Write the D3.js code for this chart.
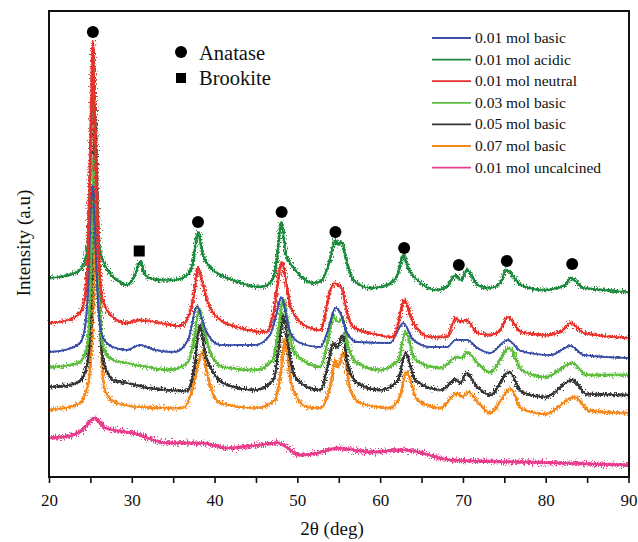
<!DOCTYPE html>
<html><head><meta charset="utf-8">
<script src="https://cdn.jsdelivr.net/npm/d3@7"></script>
<style>body{margin:0;background:#fff}svg{display:block}text{font-family:"Liberation Serif","DejaVu Serif",serif;fill:#111}</style>
</head><body><svg id="c" width="638" height="542"></svg>
<script>
// ---- data: [2θ (deg), intensity (a.u., stacked)] ----
const seriesNames = ["0.01 mol basic","0.01 mol acidic","0.01 mol neutral","0.03 mol basic","0.05 mol basic","0.07 mol basic","0.01 mol uncalcined"];
const seriesColors = ["#3a4ea6","#1e8a3c","#e8312b","#5dbd3d","#353535","#f5891f","#e83e8c"];
const basic001 = [[20,125],[21.9,127],[23.75,134],[24.35,150],[24.7,185],[25.05,267],[25.3,292],[25.55,247],[25.9,177],[26.2,150],[26.6,138],[27.7,130],[29.4,127],[31.0,132],[32.8,127],[35.2,125],[36.8,137],[37.9,171],[38.5,157],[39.1,144],[40.7,132],[44.9,132],[46.7,142],[47.45,162],[48.05,180],[48.65,162],[49.15,144],[50.35,134],[52.8,130],[53.7,147],[54.6,169],[55.2,164],[56.0,144],[57.25,135],[61.2,134],[62.8,154],[64.0,137],[66.1,130],[68.1,130],[69.1,137],[70.5,137],[71.75,129],[73.3,124],[75.4,137],[77.0,126],[80.6,122],[83.0,131],[84.6,122],[90,119]];
const acidic001 = [[20,199],[21.9,201],[23.75,207],[24.35,216],[24.7,237],[25.0,317],[25.35,427],[25.6,327],[25.9,252],[26.2,226],[27.0,208],[28.2,197],[29.4,192],[30.3,200],[31.0,215],[31.7,201],[33.4,197],[35.2,197],[36.7,202],[37.4,215],[38.0,245],[38.6,222],[39.8,207],[42.2,197],[45.5,190],[46.7,194],[47.45,212],[48.05,255],[48.65,222],[49.5,210],[51.9,194],[53.0,197],[53.85,215],[54.6,237],[54.95,232],[55.3,235],[56.0,214],[56.75,197],[58.8,189],[60.9,192],[62.1,202],[62.8,222],[63.5,207],[64.5,197],[66.9,187],[68.25,192],[69.1,202],[69.8,197],[70.5,207],[71.75,192],[73.3,189],[74.6,195],[75.2,207],[77.0,192],[79.7,187],[82.4,192],[83.0,199],[84.6,189],[87.0,187],[90,185]];
const neutral001 = [[20,154],[21.9,156],[23.75,164],[24.35,180],[24.7,222],[25.0,327],[25.3,435],[25.6,337],[25.9,242],[26.2,197],[26.6,174],[27.7,160],[29.4,154],[31.0,157],[33.4,154],[35.8,151],[37.0,164],[37.5,182],[38.0,209],[38.6,192],[39.1,177],[40.7,157],[43.1,149],[46.4,145],[47.1,164],[48.15,214],[48.8,187],[49.15,170],[51.2,150],[52.8,147],[54.0,187],[54.5,194],[55.0,192],[55.3,190],[56.0,164],[56.75,150],[58.8,144],[61.6,140],[62.2,154],[62.9,177],[64.0,154],[66.1,140],[68.1,140],[69.1,159],[69.7,155],[70.4,157],[71.75,144],[73.3,142],[74.5,147],[75.4,160],[77.0,145],[80.0,142],[81.8,145],[83.0,154],[84.6,144],[90,139]];
const basic003 = [[20,110],[21.9,111],[23.75,115],[24.6,130],[24.95,177],[25.3,277],[25.5,322],[25.7,277],[26.05,177],[26.4,137],[26.8,125],[27.7,117],[29.4,114],[31.8,110],[34.6,107],[36.8,115],[37.5,137],[38.15,167],[38.75,147],[39.5,124],[41.0,110],[44.9,107],[47.0,117],[47.7,147],[48.3,177],[48.9,152],[49.5,127],[51.2,114],[52.8,110],[53.7,137],[54.35,160],[54.95,155],[55.45,159],[56.15,130],[57.25,114],[60.0,107],[62.2,117],[63.05,145],[64.25,117],[67.3,109],[69.3,120],[69.9,119],[70.5,125],[71.75,114],[73.3,105],[75.6,129],[77.1,107],[80.0,100],[83.25,114],[84.9,102],[90,102]];
const basic005 = [[20,90],[21.9,91],[23.75,96],[24.7,117],[25.1,177],[25.4,297],[25.55,372],[25.8,297],[26.1,177],[26.5,117],[27.1,104],[27.7,97],[29.4,94],[32.2,89],[36.7,86],[37.5,107],[38.25,152],[38.9,122],[39.5,110],[41.0,94],[44.9,87],[47.1,97],[47.8,132],[48.3,162],[48.9,132],[49.5,104],[51.2,90],[52.8,87],[53.7,112],[54.35,134],[54.8,129],[55.45,142],[56.15,110],[57.25,94],[60.0,87],[62.2,97],[63.05,124],[64.25,97],[67.3,87],[69.1,97],[69.7,94],[70.4,104],[71.75,90],[73.3,82],[75.6,105],[77.1,85],[80.0,80],[83.25,97],[84.9,83],[90,82]];
const basic007 = [[20,67],[21.9,69],[23.75,74],[24.7,92],[25.2,137],[25.55,217],[25.8,272],[26.05,217],[26.3,137],[26.65,90],[27.4,78],[28.2,74],[31.0,70],[36.2,69],[37.4,90],[38.0,112],[38.5,125],[39.0,107],[39.5,90],[40.7,74],[44.9,69],[47.3,77],[48.05,107],[48.55,139],[49.0,107],[49.5,87],[51.2,70],[52.8,69],[54.0,92],[54.6,117],[54.95,110],[55.55,124],[56.4,87],[57.6,74],[61.2,69],[62.45,82],[63.15,105],[64.5,77],[67.3,69],[69.3,84],[69.9,80],[70.65,85],[71.9,74],[73.3,64],[75.75,88],[77.1,68],[80.0,63],[83.5,80],[85.3,66],[90,64]];
const uncalcined001 = [[20,39],[22.5,41],[24.0,47],[25.55,59],[26.8,49],[30.2,44],[34.3,34],[38.3,34],[41.5,29],[45.5,32],[47.6,34],[50.35,22],[52.5,24],[54.9,29],[58.8,25],[63.0,27],[68.6,17],[76.7,15],[81.8,14],[90,12]];
const seriesData = [basic001, acidic001, neutral001, basic003, basic005, basic007, uncalcined001];
const anataseMarks = [[25.3,445],[38.0,255],[48.1,265],[54.6,245],[62.9,229],[69.5,212],[75.3,216],[83.2,213]];
const brookiteMarks = [[30.9,226]];
const xTicks = [20,25,30,35,40,45,50,55,60,65,70,75,80,85,90];
const xTickLabels = [20,30,40,50,60,70,80,90];

// ---- drawing ----
const svg = d3.select("#c");
const defs = svg.append("defs");
function roughFilter(id, scale){
  const f = defs.append("filter").attr("id",id).attr("x","-2%").attr("y","-10%").attr("width","104%").attr("height","120%");
  f.append("feTurbulence").attr("type","fractalNoise").attr("baseFrequency","0.9 0.5").attr("numOctaves",2).attr("seed",7).attr("result","t");
  f.append("feDisplacementMap").attr("in","SourceGraphic").attr("in2","t").attr("scale",scale).attr("xChannelSelector","R").attr("yChannelSelector","G");
}
roughFilter("rough",8);
roughFilter("roughLight",4);
roughFilter("roughHeavy",11);

const L=49, R=629, T=11, B=477;
const x = d3.scaleLinear().domain([20,90]).range([L,628.5]);
const y = d3.scaleLinear().domain([0,466]).range([B,T]);

const line = d3.line().x(d=>x(d[0])).y(d=>y(d[1])).curve(d3.curveMonotoneX);
const order = [6,5,4,3,0,1,2];
order.forEach(i=>{
  const g = svg.append("g");
  g.append("path").datum(seriesData[i]).attr("d",line)
    .attr("fill","none").attr("stroke",seriesColors[i])
    .attr("stroke-width", i===6?2.4:1.7).attr("stroke-linejoin","round");
  g.append("path").datum(seriesData[i]).attr("d",line)
    .attr("fill","none").attr("stroke",seriesColors[i])
    .attr("stroke-width", i===0?1.8:(i===6?3.4:2.8)).attr("stroke-linejoin","round")
    .attr("filter", i===0?"url(#roughLight)":(i===6?"url(#roughHeavy)":"url(#rough)"));
});

// frame
svg.append("rect").attr("x",L).attr("y",T).attr("width",R-L).attr("height",B-T)
  .attr("fill","none").attr("stroke","#111").attr("stroke-width",2);

// x axis
const xAxis = d3.axisBottom(x).tickValues(xTicks).tickSize(6)
  .tickFormat(d=>xTickLabels.includes(d)?d:"");
const gx = svg.append("g").attr("transform",`translate(0,${B})`).call(xAxis);
gx.select(".domain").remove();
gx.selectAll(".tick line").attr("stroke","#111").attr("stroke-width",1.6);
gx.selectAll(".tick text").attr("font-size",17).attr("fill","#111").attr("dy","1.15em");

svg.append("text").attr("x",332).attr("y",535).attr("text-anchor","middle").attr("font-size",19).text("2θ (deg)");
svg.append("text").attr("transform","translate(30,243) rotate(-90)").attr("text-anchor","middle").attr("font-size",19).text("Intensity (a.u)");

// markers
svg.selectAll("circle.an").data(anataseMarks).enter().append("circle")
  .attr("cx",d=>x(d[0])).attr("cy",d=>y(d[1])).attr("r",6).attr("fill","#000");
svg.selectAll("rect.br").data(brookiteMarks).enter().append("rect")
  .attr("x",d=>x(d[0])-5.5).attr("y",d=>y(d[1])-5.5).attr("width",11).attr("height",11).attr("fill","#000");

// phase legend
svg.append("circle").attr("cx",181).attr("cy",52).attr("r",6).attr("fill","#000");
svg.append("text").attr("x",199).attr("y",60).attr("font-size",20.5).text("Anatase");
svg.append("rect").attr("x",176).attr("y",73).attr("width",10).attr("height",10).attr("fill","#000");
svg.append("text").attr("x",199).attr("y",85).attr("font-size",20.5).text("Brookite");

// series legend
seriesNames.forEach((n,i)=>{
  const yy = 38 + i*21.6;
  svg.append("line").attr("x1",432).attr("x2",471).attr("y1",yy).attr("y2",yy)
    .attr("stroke",seriesColors[i]).attr("stroke-width",1.8);
  svg.append("text").attr("x",475).attr("y",yy+5).attr("font-size",15.5).text(n);
});
</script></body></html>
